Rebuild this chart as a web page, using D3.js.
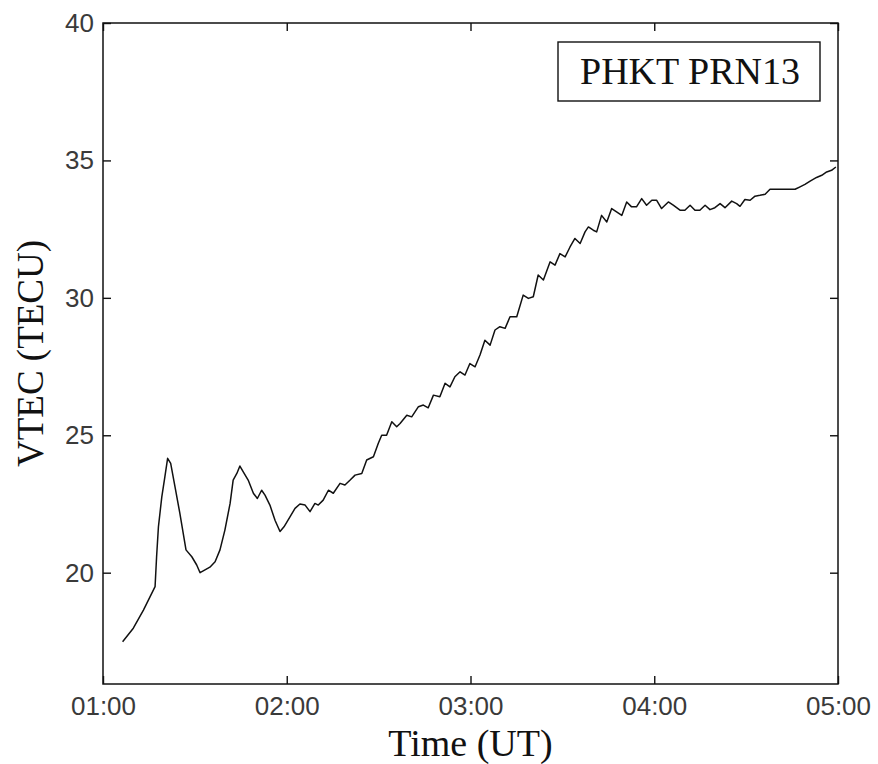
<!DOCTYPE html>
<html>
<head>
<meta charset="utf-8">
<script src="https://cdn.jsdelivr.net/npm/d3@7"></script>
<style>
  body { margin: 0; background: #fff; }
  svg { display: block; }
</style>
</head>
<body>
<div id="chart"></div>
<script>
// minutes after 00:00 UT
var minutes = [66.4, 69.9, 73.2, 77.0, 77.5, 78.1, 79.2, 80.2, 81.1, 82.1,
  83.5, 85.1, 87.1, 89.0, 90.6, 91.7, 93.3, 94.9, 96.6, 98.2,
  99.8, 101.5, 102.5, 103.7, 104.7, 105.8, 107.4, 109.1, 110.4, 111.8,
  112.9, 114.5, 116.2, 117.8, 119.1, 121.1, 122.7, 124.3, 126.0, 127.6,
  129.2, 130.3, 131.9, 133.6, 135.2, 137.4, 139.0, 140.7, 142.3, 144.5,
  146.1, 148.3, 149.9, 151.0, 152.6, 154.3, 155.9, 157.0, 159.2, 160.8,
  163.0, 164.6, 166.2, 167.9, 170.0, 171.7, 173.3, 174.9, 176.6, 178.2,
  179.8, 181.5, 183.1, 184.7, 186.4, 188.0, 189.6, 191.3, 192.9, 195.1,
  197.2, 198.9, 200.5, 202.1, 203.8, 206.0, 207.6, 209.2, 210.9, 212.5,
  214.1, 215.8, 217.4, 218.5, 220.1, 221.2, 222.8, 224.5, 226.1, 227.7,
  229.4, 231.0, 232.6, 234.2, 235.9, 237.5, 239.2, 240.8, 242.4, 244.6,
  246.2, 248.4, 250.0, 251.7, 253.3, 254.9, 256.6, 258.2, 259.8, 261.5,
  263.1, 265.3, 266.9, 268.0, 269.6, 271.3, 272.9, 274.5, 276.2, 277.8,
  286.0, 287.6, 289.2, 290.9, 293.0, 294.7, 296.3, 297.9, 299.3];

var vtec = [17.49, 17.98, 18.64, 19.49, 20.58, 21.67, 22.76, 23.49, 24.16, 23.98,
  23.13, 22.16, 20.83, 20.58, 20.28, 20.00, 20.10, 20.20, 20.40, 20.83,
  21.55, 22.52, 23.37, 23.61, 23.88, 23.67, 23.37, 22.89, 22.70, 23.00,
  22.82, 22.46, 21.90, 21.50, 21.67, 22.04, 22.34, 22.50, 22.46, 22.22,
  22.52, 22.46, 22.64, 23.00, 22.89, 23.25, 23.19, 23.37, 23.55, 23.61,
  24.10, 24.22, 24.71, 25.00, 25.00, 25.49, 25.31, 25.43, 25.73, 25.67,
  26.04, 26.10, 26.00, 26.46, 26.40, 26.89, 26.76, 27.13, 27.31, 27.19,
  27.61, 27.49, 27.92, 28.46, 28.28, 28.83, 28.95, 28.89, 29.31, 29.31,
  30.10, 29.98, 30.04, 30.83, 30.65, 31.31, 31.19, 31.61, 31.49, 31.85,
  32.16, 31.98, 32.40, 32.58, 32.46, 32.40, 33.00, 32.76, 33.25, 33.13,
  33.00, 33.49, 33.31, 33.31, 33.61, 33.37, 33.55, 33.55, 33.25, 33.49,
  33.37, 33.19, 33.19, 33.37, 33.19, 33.19, 33.37, 33.21, 33.28, 33.43,
  33.28, 33.52, 33.43, 33.33, 33.58, 33.55, 33.70, 33.73, 33.77, 33.95,
  33.95, 34.04, 34.13, 34.25, 34.38, 34.46, 34.58, 34.64, 34.76];

var xTicks = [60, 120, 180, 240, 300];
var xTickLabels = ["01:00", "02:00", "03:00", "04:00", "05:00"];
var yTicks = [20, 25, 30, 35, 40];
var legendText = "PHKT PRN13";

var W = 878, H = 764;
// note: "top" is a read-only global in browsers, so prefix the margins
var mLeft = 103, mRight = 838, mTop = 23, mBottom = 684;

var svg = d3.select("#chart").append("svg")
  .attr("width", W).attr("height", H);

var x = d3.scaleLinear().domain([60, 300]).range([mLeft, mRight]);
var y = d3.scaleLinear().domain([15.95, 40]).range([mBottom, mTop]);

var tickFont = "'Liberation Sans', Arial, sans-serif";
var serif = "'Liberation Serif', 'Times New Roman', serif";

function styleAxis(g) {
  g.select(".domain").remove();
  g.selectAll(".tick line").attr("stroke", "#111").attr("stroke-width", 1.4);
  g.selectAll(".tick text")
    .attr("fill", "#3a3a3a")
    .style("font-family", tickFont)
    .style("font-size", "26px");
}

// bottom and left axes with labels, ticks pointing in
svg.append("g")
  .attr("transform", "translate(0," + mBottom + ")")
  .call(d3.axisBottom(x).tickValues(xTicks)
    .tickFormat(function(d, i) { return xTickLabels[i]; })
    .tickSizeInner(-8).tickSizeOuter(0).tickPadding(13))
  .call(styleAxis);

svg.append("g")
  .attr("transform", "translate(" + mLeft + ",0)")
  .call(d3.axisLeft(y).tickValues(yTicks)
    .tickSizeInner(-8).tickSizeOuter(0).tickPadding(9))
  .call(styleAxis);

// top and right, ticks only
svg.append("g")
  .attr("transform", "translate(0," + mTop + ")")
  .call(d3.axisTop(x).tickValues(xTicks).tickFormat("")
    .tickSizeInner(-8).tickSizeOuter(0))
  .call(styleAxis);

svg.append("g")
  .attr("transform", "translate(" + mRight + ",0)")
  .call(d3.axisRight(y).tickValues(yTicks).tickFormat("")
    .tickSizeInner(-8).tickSizeOuter(0))
  .call(styleAxis);

// frame
svg.append("rect")
  .attr("x", mLeft).attr("y", mTop)
  .attr("width", mRight - mLeft).attr("height", mBottom - mTop)
  .attr("fill", "none").attr("stroke", "#111").attr("stroke-width", 1.5);

// the curve
var pts = minutes.map(function(m, i) { return [m, vtec[i]]; });
var line = d3.line()
  .x(function(d) { return x(d[0]); })
  .y(function(d) { return y(d[1]); });

svg.append("path")
  .datum(pts)
  .attr("d", line)
  .attr("fill", "none")
  .attr("stroke", "#111")
  .attr("stroke-width", 1.5)
  .attr("stroke-linejoin", "round");

// legend box
svg.append("rect")
  .attr("x", 558).attr("y", 42)
  .attr("width", 262).attr("height", 59)
  .attr("fill", "#fff").attr("stroke", "#111").attr("stroke-width", 1.4);

svg.append("text")
  .attr("x", 580).attr("y", 84)
  .style("font-family", serif)
  .style("font-size", "38px")
  .attr("fill", "#111")
  .text(legendText);

// axis titles
svg.append("text")
  .attr("x", (mLeft + mRight) / 2).attr("y", 756)
  .attr("text-anchor", "middle")
  .style("font-family", serif)
  .style("font-size", "38px")
  .attr("fill", "#111")
  .text("Time (UT)");

svg.append("text")
  .attr("transform", "translate(43," + (mTop + mBottom) / 2 + ") rotate(-90)")
  .attr("text-anchor", "middle")
  .style("font-family", serif)
  .style("font-size", "37px")
  .attr("fill", "#111")
  .text("VTEC (TECU)");
</script>
</body>
</html>
